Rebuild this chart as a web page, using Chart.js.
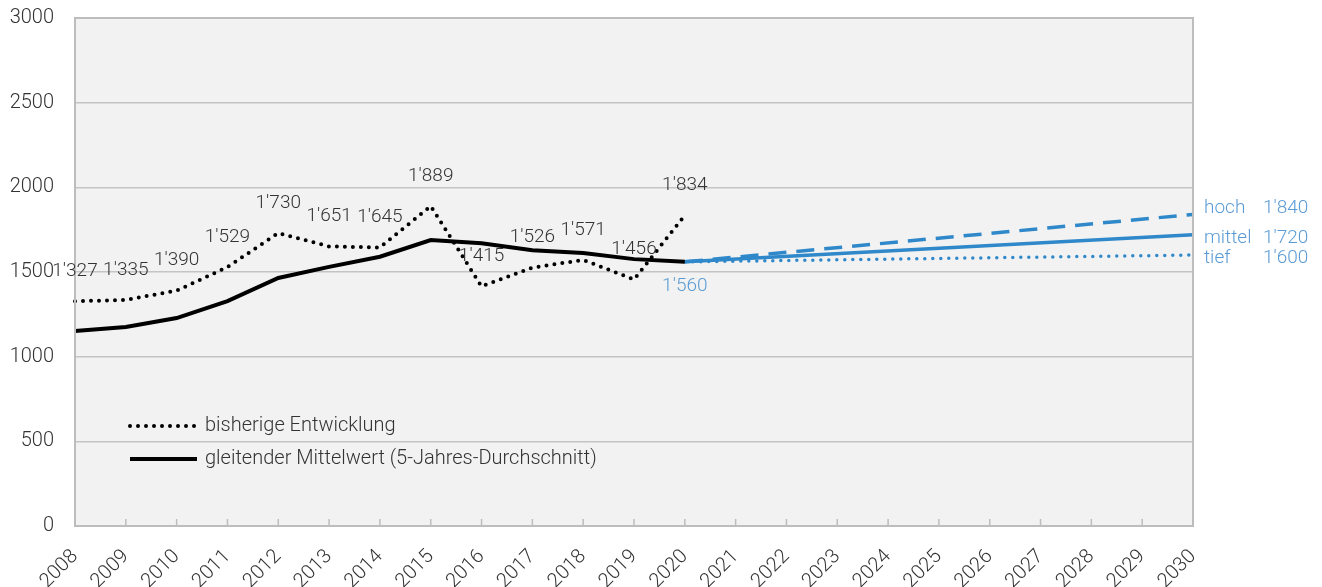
<!DOCTYPE html>
<html>
<head>
<meta charset="utf-8">
<script src="https://cdn.jsdelivr.net/npm/chart.js@4.4.1/dist/chart.umd.min.js"></script>
<style>
  body { margin: 0; background: #fff; }
  #wrap { width: 1322px; height: 587px; position: relative; }
</style>
</head>
<body>
<div id="wrap"><canvas id="chart"></canvas></div>
<script>
// data
const years = ['2008','2009','2010','2011','2012','2013','2014','2015','2016','2017','2018','2019','2020',
  '2021','2022','2023','2024','2025','2026','2027','2028','2029','2030'];
const history = [1327, 1335, 1390, 1529, 1730, 1651, 1645, 1889, 1415, 1526, 1571, 1456, 1834];
const movingAvg = [1152, 1175, 1228, 1328, 1465, 1530, 1590, 1689, 1670, 1628, 1612, 1576, 1560];
const scenarioNames = ['hoch', 'mittel', 'tief'];
const scenarioStart = 1560;
const scenarioEnd = [1840, 1720, 1600];
const yTicks = [0, 500, 1000, 1500, 2000, 2500, 3000];

const FONT = 'Roboto, "Open Sans", sans-serif';
const BLUE = '#2f88c9';
const BLUE_TXT = '#5b9bd5';
const GRID = '#c4c4c4';

const fmt = v => String(v).replace(/\B(?=(\d{3})+(?!\d))/g, "'");

// scenario lines: start at 2020, end at 2030, gap in between is spanned
function scenario(endVal) {
  const arr = years.map(() => null);
  arr[years.indexOf('2020')] = scenarioStart;
  arr[years.length - 1] = endVal;
  return arr;
}
const scenarioStyles = [
  { borderDash: [18, 10], borderWidth: 3.5, borderCapStyle: 'butt' },
  { borderDash: [], borderWidth: 3.5, borderCapStyle: 'butt' },
  { borderDash: [0, 8], borderWidth: 3.5, borderCapStyle: 'round' }
];
const labelShift = [-6, 4, 3];

const plotDeco = {
  id: 'plotDeco',
  beforeDraw(chart) {
    const { ctx, chartArea: a } = chart;
    ctx.save();
    ctx.fillStyle = '#f2f2f2';
    ctx.fillRect(a.left, a.top, a.right - a.left, a.bottom - a.top);
    ctx.restore();
  },
  afterDraw(chart) {
    const { ctx, chartArea: a, scales } = chart;
    ctx.save();
    // box + inner ticks
    ctx.strokeStyle = '#bdbdbd';
    ctx.lineWidth = 2;
    ctx.strokeRect(a.left, a.top, a.right - a.left, a.bottom - a.top);
    ctx.lineWidth = 1.5;
    years.forEach((_, i) => {
      const x = scales.x.getPixelForValue(i);
      ctx.beginPath();
      ctx.moveTo(x, a.bottom - 7);
      ctx.lineTo(x, a.bottom);
      ctx.stroke();
    });

    // value labels of the history
    ctx.font = '300 19px ' + FONT;
    ctx.fillStyle = '#333';
    ctx.textAlign = 'center';
    ctx.textBaseline = 'middle';
    history.forEach((v, i) => {
      const x = scales.x.getPixelForValue(i);
      const y = scales.y.getPixelForValue(v);
      ctx.fillText(fmt(v), x, y - 30);
    });

    // start value of scenarios
    const x20 = scales.x.getPixelForValue(years.indexOf('2020'));
    ctx.fillStyle = BLUE_TXT;
    ctx.fillText(fmt(scenarioStart), x20, scales.y.getPixelForValue(scenarioStart) + 24);

    // scenario end labels
    ctx.textAlign = 'left';
    scenarioNames.forEach((n, i) => {
      const y = scales.y.getPixelForValue(scenarioEnd[i]) + labelShift[i];
      ctx.fillText(n, a.right + 11, y);
      ctx.fillText(fmt(scenarioEnd[i]), a.right + 70, y);
    });

    // legend inside plot
    const items = [
      { label: 'bisherige Entwicklung', dash: [0, 8], width: 4, cap: 'round', y: 426 },
      { label: 'gleitender Mittelwert (5-Jahres-Durchschnitt)', dash: [], width: 4, cap: 'butt', y: 459 }
    ];
    ctx.fillStyle = '#333';
    ctx.font = '300 20px ' + FONT;
    items.forEach(it => {
      ctx.strokeStyle = '#000';
      ctx.lineWidth = it.width;
      ctx.lineCap = it.cap;
      ctx.setLineDash(it.dash);
      ctx.beginPath();
      ctx.moveTo(130, it.y);
      ctx.lineTo(197, it.y);
      ctx.stroke();
      ctx.setLineDash([]);
      ctx.fillText(it.label, 205, it.y);
    });
    ctx.restore();
  }
};

new Chart(document.getElementById('chart'), {
  type: 'line',
  data: {
    labels: years,
    datasets: [
      {
        label: 'bisherige Entwicklung',
        data: history,
        borderColor: '#000',
        borderWidth: 4,
        borderDash: [0, 8],
        borderCapStyle: 'round',
        pointRadius: 0,
        tension: 0
      },
      {
        label: 'gleitender Mittelwert (5-Jahres-Durchschnitt)',
        data: movingAvg,
        borderColor: '#000',
        borderWidth: 4,
        pointRadius: 0,
        tension: 0
      },
      ...scenarioNames.map((n, i) => Object.assign({
        label: n,
        data: scenario(scenarioEnd[i]),
        borderColor: BLUE,
        pointRadius: 0,
        spanGaps: true,
        tension: 0
      }, scenarioStyles[i]))
    ]
  },
  options: {
    responsive: true,
    maintainAspectRatio: false,
    animation: false,
    layout: { padding: { top: 18, right: 129, left: 0, bottom: 0 } },
    plugins: { legend: { display: false }, tooltip: { enabled: false } },
    scales: {
      x: {
        offset: false,
        grid: { drawOnChartArea: false, drawTicks: false },
        border: { display: true, color: '#bdbdbd', width: 2 },
        ticks: {
          autoSkip: false, maxRotation: 45, minRotation: 45,
          color: '#333', font: { family: FONT, size: 20, weight: '300' }, padding: 19
        },
        afterFit(s) { s.height = 61; }
      },
      y: {
        min: 0, max: 3000,
        afterBuildTicks(s) { s.ticks = yTicks.map(v => ({ value: v })); },
        grid: { color: GRID, lineWidth: 1.5, drawTicks: true, tickLength: 18, tickColor: 'rgba(0,0,0,0)' },
        border: { display: true, color: '#bdbdbd', width: 2 },
        ticks: {
          color: '#333', font: { family: FONT, size: 20, weight: '300' }, padding: 3,
          callback: v => String(v)
        },
        afterFit(s) { s.width = 75; }
      }
    }
  },
  plugins: [plotDeco]
});
</script>
</body>
</html>
